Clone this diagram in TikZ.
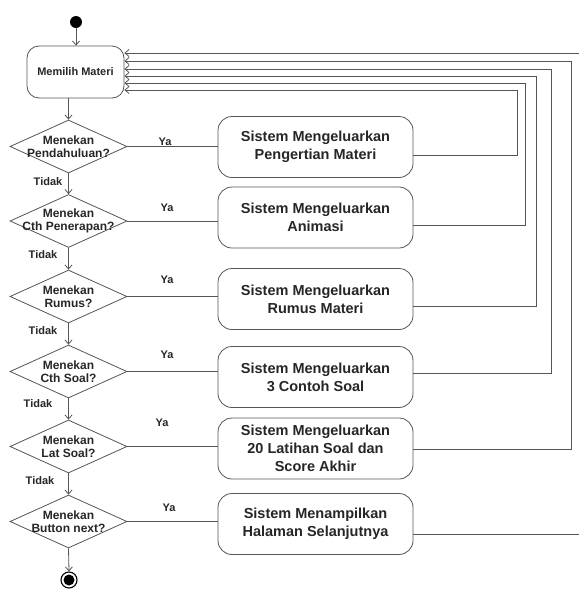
\documentclass[tikz,border=0pt]{standalone}
\usepackage{fontspec}
\setmainfont{Liberation Sans}
\usetikzlibrary{shapes.geometric,arrows.meta}
\definecolor{linec}{HTML}{555555}
\definecolor{txtc}{HTML}{262626}
\tikzset{
  every node/.style={text=txtc},
  actbox/.style={draw=linec, line width=0.8pt, rounded corners=14pt, minimum width=195pt, minimum height=61pt, inner sep=0pt, align=center, font=\fontsize{14.5}{18}\selectfont\bfseries},
  startbox/.style={draw=linec, line width=0.8pt, rounded corners=12pt, minimum width=97pt, minimum height=52pt, inner sep=0pt, font=\fontsize{11}{13}\selectfont\bfseries},
  dec/.style={diamond, draw=linec, line width=0.8pt, minimum width=117pt, minimum height=53pt, inner sep=0pt},
  dectext/.style={align=center, inner sep=0pt, font=\fontsize{12}{13}\selectfont\bfseries},
  lab/.style={inner sep=0pt, font=\fontsize{11}{13}\selectfont\bfseries},
  flow/.style={draw=linec, line width=0.8pt},
  arr/.style={flow, -{Straight Barb[length=4pt,width=7pt]}},
}
\begin{document}
\begin{tikzpicture}[x=1pt,y=-1pt]
\useasboundingbox (0,0) rectangle (579,590);
% start / end
\node[circle, fill=black, minimum size=12pt, inner sep=0pt] (start) at (76,22) {};
\node[startbox] (memilih) at (75.5,72) {Memilih Materi};
% decisions
\node[dec, label={[dectext]center:Menekan\\Pendahuluan?}] (d1) at (68.5,146.5) {};
\node[dec, label={[dectext]center:Menekan\\Cth Penerapan?}] (d2) at (68.5,221) {};
\node[dec, label={[dectext]center:Menekan\\Rumus?}] (d3) at (68.5,296.5) {};
\node[dec, label={[dectext]center:Menekan\\Cth Soal?}] (d4) at (68.5,371.5) {};
\node[dec, label={[dectext]center:Menekan\\Lat Soal?}] (d5) at (68.5,446.5) {};
\node[dec, label={[dectext]center:Menekan\\Button next?}] (d6) at (68.5,521.5) {};
\node[circle, draw=black, line width=1.1pt, minimum size=16pt, inner sep=0pt] (end) at (69,580) {};
\fill[black] (end.center) circle (5.5pt);
% actions
\node[actbox] (a1) at (315.5,147) {Sistem Mengeluarkan\\Pengertian Materi};
\node[actbox] (a2) at (315.5,217.5) {Sistem Mengeluarkan\\Animasi};
\node[actbox] (a3) at (315.5,299) {Sistem Mengeluarkan\\Rumus Materi};
\node[actbox] (a4) at (315.5,377) {Sistem Mengeluarkan\\3 Contoh Soal};
\node[actbox] (a5) at (315.5,448.5) {Sistem Mengeluarkan\\20 Latihan Soal dan\\Score Akhir};
\node[actbox] (a6) at (315.5,524) {Sistem Menampilkan\\Halaman Selanjutnya};
% labels
\node[lab] (ya1) at (165,142) {Ya};
\node[lab] (ya2) at (167,208) {Ya};
\node[lab] (ya3) at (167,280) {Ya};
\node[lab] (ya4) at (167,355) {Ya};
\node[lab] (ya5) at (162,423) {Ya};
\node[lab] (ya6) at (169,508) {Ya};
\node[lab] (t1) at (48,182) {Tidak};
\node[lab] (t2) at (43,255) {Tidak};
\node[lab] (t3) at (43,331) {Tidak};
\node[lab] (t4) at (38,404) {Tidak};
\node[lab] (t5) at (40,481) {Tidak};
% main flow
\draw[arr] (start) -- (memilih.north -| start);
\draw[arr] (memilih.south -| d1.north) -- (d1.north);
\draw[arr] (d1.south) -- (d2.north);
\draw[arr] (d2.south) -- (d3.north);
\draw[arr] (d3.south) -- (d4.north);
\draw[arr] (d4.south) -- (d5.north);
\draw[arr] (d5.south) -- (d6.north);
\draw[arr] (d6.south) -- (end.north);
% Ya connectors
\draw[flow] (d1.east) -- (d1.east -| a1.west);
\draw[flow] (d2.east) -- (d2.east -| a2.west);
\draw[flow] (d3.east) -- (d3.east -| a3.west);
\draw[flow] (d4.east) -- (d4.east -| a4.west);
\draw[flow] (d5.east) -- (d5.east -| a5.west);
\draw[flow] (d6.east) -- (d6.east -| a6.west);
% return corners
\coordinate (r1) at (517,90);
\coordinate (r2) at (525,83);
\coordinate (r3) at (536.5,76);
\coordinate (r4) at (551.5,69);
\coordinate (r5) at (571,61);
\coordinate (outR) at (579,534);
\coordinate (inR) at (579,53);
\draw[arr] ([yshift=-8pt]a1.east) -| (r1) -- (memilih.east |- r1);
\draw[arr] ([yshift=-7.5pt]a2.east) -| (r2) -- (memilih.east |- r2);
\draw[arr] ([yshift=-7pt]a3.east) -| (r3) -- (memilih.east |- r3);
\draw[arr] ([yshift=4pt]a4.east) -| (r4) -- (memilih.east |- r4);
\draw[arr] ([yshift=-0.5pt]a5.east) -| (r5) -- (memilih.east |- r5);
\draw[flow] ([yshift=-10pt]a6.east) -- (outR);
\draw[arr] (inR) -- (memilih.east |- inR);
\end{tikzpicture}
\end{document}
